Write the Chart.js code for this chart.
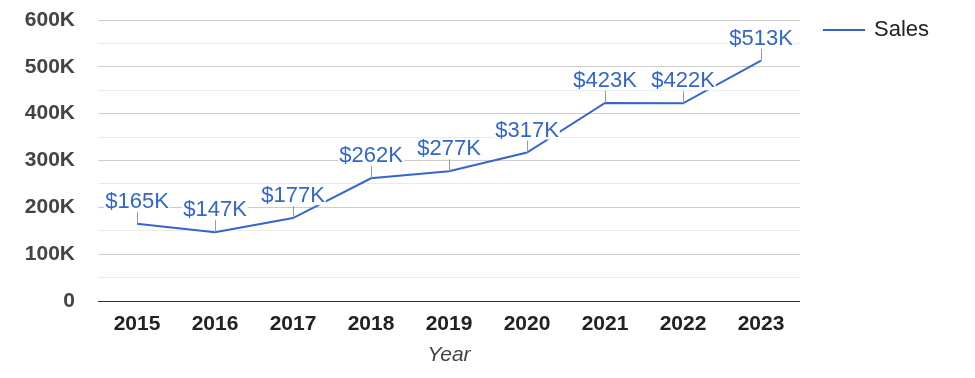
<!DOCTYPE html>
<html>
<head>
<meta charset="utf-8">
<script src="https://cdn.jsdelivr.net/npm/chart.js@4"></script>
<style>
  html, body { margin: 0; padding: 0; background: #fff; }
  #wrap { width: 975px; height: 378px; position: relative; }
</style>
</head>
<body>
<div id="wrap"><canvas id="salesChart"></canvas></div>
<script>
const years = ['2015', '2016', '2017', '2018', '2019', '2020', '2021', '2022', '2023'];
const sales = [165000, 147000, 177000, 262000, 277000, 317000, 423000, 422000, 513000];
const yTickLabels = ['0', '100K', '200K', '300K', '400K', '500K', '600K'];

const FONT = 'Arial, "Liberation Sans", sans-serif';
const BLUE = '#3366cc';

// value labels with white box + small leader line, and the legend on the right
const labelPlugin = {
    id: 'valueLabels',
    afterDatasetsDraw(chart) {
        const ctx = chart.ctx;
        const meta = chart.getDatasetMeta(0);
        const ds = chart.data.datasets[0];
        ctx.save();
        ctx.font = '22px ' + FONT;
        ctx.textAlign = 'center';
        ctx.textBaseline = 'alphabetic';
        meta.data.forEach((pt, i) => {
            const text = '$' + Math.round(ds.data[i] / 1000) + 'K';
            const w = ctx.measureText(text).width;
            const base = pt.y - 16;
            ctx.strokeStyle = '#999';
            ctx.lineWidth = 1;
            ctx.beginPath();
            ctx.moveTo(Math.round(pt.x) + 0.5, pt.y);
            ctx.lineTo(Math.round(pt.x) + 0.5, pt.y - 12);
            ctx.stroke();
            ctx.fillStyle = '#fff';
            ctx.fillRect(pt.x - w / 2 - 1, base - 17, w + 2, 20);
            ctx.fillStyle = BLUE;
            ctx.fillText(text, pt.x, base);
        });
        // legend
        ctx.strokeStyle = BLUE;
        ctx.lineWidth = 2;
        ctx.beginPath();
        ctx.moveTo(823, 30);
        ctx.lineTo(865, 30);
        ctx.stroke();
        ctx.fillStyle = '#222';
        ctx.textAlign = 'left';
        ctx.textBaseline = 'middle';
        ctx.fillText(ds.label, 874, 30);
        ctx.restore();
    }
};

const chartCtx = document.getElementById('salesChart').getContext('2d');
new Chart(chartCtx, {
    type: 'line',
    data: {
        labels: years,
        datasets: [{
            label: 'Sales',
            data: sales,
            borderColor: BLUE,
            borderWidth: 2,
            pointRadius: 0,
            tension: 0,
            fill: false
        }]
    },
    options: {
        responsive: true,
        maintainAspectRatio: false,
        animation: false,
        layout: { padding: { top: 20, right: 175, bottom: 0, left: 0 } },
        plugins: {
            legend: { display: false },
            tooltip: { enabled: false }
        },
        scales: {
            x: {
                offset: true,
                grid: { display: false },
                border: { display: false },
                ticks: {
                    color: '#222',
                    padding: 3,
                    maxRotation: 0,
                    font: { family: FONT, size: 21, weight: 'bold' }
                },
                title: {
                    display: true,
                    text: 'Year',
                    color: '#444',
                    padding: { top: 0, bottom: 10 },
                    font: { family: FONT, size: 21, style: 'italic' }
                },
                afterFit(scale) { scale.height = 77; }
            },
            y: {
                min: 0,
                max: 600000,
                border: { display: false },
                grid: {
                    drawTicks: false,
                    color: c => c.tick.value === 0 ? '#333' : (c.tick.value % 100000 === 0 ? '#cccccc' : '#ebebeb'),
                    lineWidth: 1
                },
                ticks: {
                    stepSize: 50000,
                    maxTicksLimit: 20,
                    autoSkip: false,
                    padding: 23,
                    color: '#444',
                    font: { family: FONT, size: 21, weight: 'bold' },
                    callback: v => v % 100000 === 0 ? yTickLabels[v / 100000] : ''
                },
                afterFit(scale) {
                    scale.width = 98;
                    scale.paddingTop = 0;
                    scale.paddingBottom = 0;
                }
            }
        }
    },
    plugins: [labelPlugin]
});
</script>
</body>
</html>
